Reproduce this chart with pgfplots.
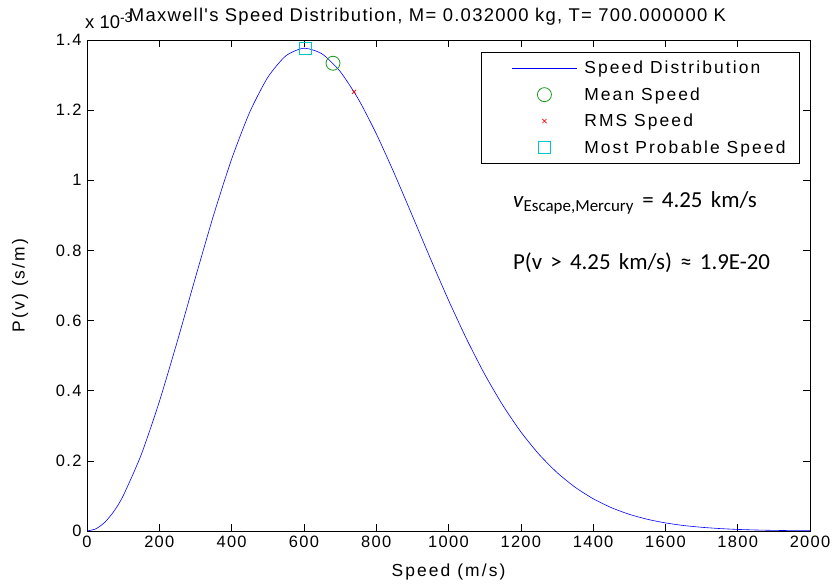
\documentclass[border=0pt]{standalone}
\usepackage{pgfplots}
\pgfplotsset{compat=1.18}
\usepackage{fontspec}
\setmainfont{Liberation Sans}
\newfontfamily\tickfont[LetterSpace=8]{Liberation Sans}
\newfontfamily\labfont[LetterSpace=12]{Liberation Sans}
\newfontfamily\titfont[LetterSpace=7]{Liberation Sans}
\newfontfamily\calfont{Carlito}
\newcommand\annfont{\fontsize{23}{23}\calfont\spaceskip=0.36em\relax}
\definecolor{mgreen}{rgb}{0.1,0.6,0.1}
\definecolor{mcyan}{rgb}{0,0.78,0.78}
\pgfplotsset{
  lineleg/.style={legend image code/.code={\path (0bp,0bp) (88bp,0bp); \draw[##1, draw=blue] (18bp,0bp) -- (83bp,0bp);}},
  markleg/.style={legend image code/.code={\path (0bp,0bp) (88bp,0bp); \draw[mark repeat=2,mark phase=2,##1] plot coordinates {(18bp,0bp)(50.5bp,0bp)(83bp,0bp)};}},
}
\begin{document}
\begin{tikzpicture}
\begin{axis}[
  scale only axis, width=723bp, height=491bp, clip=false,
  xmin=0, xmax=2000, ymin=0, ymax=1.4,
  xtick={0,200,...,2000}, ytick={0,0.2,0.4,0.6,0.8,1,1.2,1.4},
  yticklabels={0,0.2,0.4,0.6,0.8,1,1.2,1.4},
  xticklabels={0,200,400,600,800,1000,1200,1400,1600,1800,2000},
  tick align=inside, major tick length=7bp,
  tick style={black, line width=0.6pt},
  axis line style={black, line width=0.8pt},
  ticklabel style={font=\fontsize{16.5}{16.5}\tickfont},
  /pgf/number format/assume math mode=true,
  xticklabel style={yshift=-2bp},
  yticklabel style={xshift=-2bp},
  title={\fontsize{18.5}{18.5}\titfont Maxwell's Speed Distribution, M= 0.032000 kg, T= 700.000000 K},
  title style={at={(0.5,1)}, anchor=base, yshift=13bp, xshift=-21bp},
  xlabel={\fontsize{17.5}{17.5}\labfont Speed (m/s)},
  ylabel={\fontsize{17.5}{17.5}\labfont P(v) (s/m)},
  xlabel style={yshift=-9bp},
  ylabel style={yshift=21bp},
  legend style={at={(0.986,0.976)}, anchor=north east, draw=black, line width=0.8pt,
    font=\fontsize{17.5}{17.5}\labfont, row sep=8.3bp, inner xsep=12bp, inner ysep=7bp,
    /tikz/every even column/.append style={column sep=0bp}},
  legend cell align=left,
]
\addplot[blue, line width=0.6pt, smooth, tension=0.4, lineleg] coordinates {
(0,0) (25,0.0064) (50,0.0255) (75,0.0570) (100,0.1001) (150,0.2176) (200,0.3687) (250,0.5415)
(300,0.7229) (350,0.8999) (400,1.0602) (450,1.1939) (500,1.2934)
(550,1.3548) (600,1.3765) (650,1.3605) (700,1.3106) (750,1.2326)
(800,1.1332) (850,1.0196) (900,0.8988) (950,0.7767) (1000,0.6582)
(1050,0.5475) (1100,0.4471) (1150,0.3588) (1200,0.2828) (1250,0.2191)
(1300,0.1669) (1350,0.1250) (1400,0.0921) (1450,0.0668) (1500,0.0476)
(1550,0.0334) (1600,0.0231) (1650,0.0157) (1700,0.0106) (1750,0.0070)
(1800,0.0045) (1850,0.0029) (1900,0.0018) (1950,0.0011) (2000,0.0007)
};
\addlegendentry{Speed Distribution}
\addplot[only marks, mark=o, mark size=7bp, color=mgreen, mark options={draw=mgreen, line width=0.8pt}, markleg]
  coordinates {(680.5,1.3337)};
\addlegendentry{Mean Speed}
\addplot[only marks, mark=x, mark size=3bp, color=red, mark options={draw=red, line width=0.6pt}, markleg]
  coordinates {(738.7,1.2523)};
\addlegendentry{RMS Speed}
\addplot[only marks, mark=square, mark size=6bp, color=mcyan, mark options={draw=mcyan, line width=0.8pt}, markleg]
  coordinates {(603.1,1.3765)};
\addlegendentry{Most Probable Speed}
\node[anchor=base west, inner sep=0pt] at (axis cs:1178,0.921)
  {\annfont\textit{v}\textsubscript{\fontsize{17}{17}\selectfont Escape,Mercury} = 4.25 km/s};
\node[anchor=base west, inner sep=0pt] at (axis cs:1178,0.745)
  {\annfont P(v > 4.25 km/s) ≈ 1.9E-20};
\node[anchor=base west, inner sep=0pt] at (rel axis cs:0,1) [yshift=11bp, xshift=-2bp]
  {\fontsize{18.5}{18.5}\selectfont x 10\textsuperscript{\fontsize{14}{14}\selectfont -3}};
\coordinate (sw) at (rel axis cs:0,0);
\end{axis}
\pgfresetboundingbox
\path (sw) +(-87bp,-53bp) rectangle +(747bp,531bp);
\end{tikzpicture}
\end{document}
